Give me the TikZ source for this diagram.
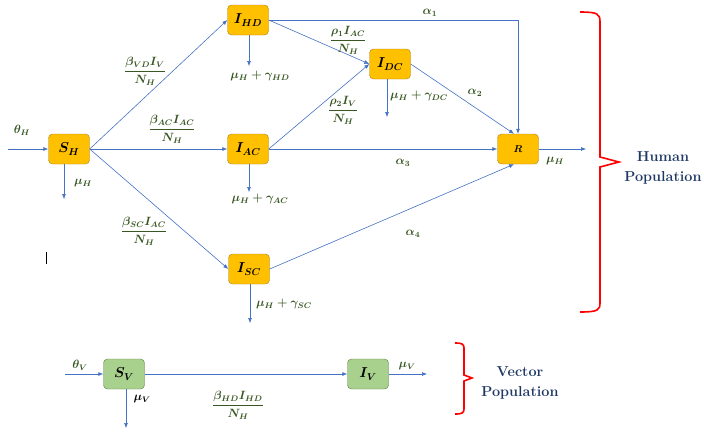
\documentclass[tikz,border=0pt]{standalone}
\usetikzlibrary{arrows.meta,positioning}
\usepackage{amsmath,amssymb,bm}
\definecolor{boxorange}{HTML}{FFC000}
\definecolor{orangeline}{HTML}{A8821A}
\definecolor{boxgreen}{HTML}{A9D18E}
\definecolor{greenline}{HTML}{5E8048}
\definecolor{flowblue}{HTML}{4472C4}
\definecolor{labgreen}{HTML}{385723}
\definecolor{popblue}{HTML}{1F3864}

\begin{document}
\begin{tikzpicture}[x=1pt,y=-1pt,
  hbox/.style={draw=orangeline,fill=boxorange,rounded corners=4pt,minimum width=41pt,minimum height=30pt,font=\Large\boldmath},
  vbox/.style={draw=greenline,fill=boxgreen,rounded corners=4pt,minimum width=41pt,minimum height=30pt,font=\Large\boldmath},
  flow/.style={draw=flowblue,line width=0.6pt,-{Latex[length=5pt,width=4pt]}},
  lab/.style={text=labgreen,font=\large\boldmath,inner sep=1pt},
  side/.style={text=popblue,font=\Large\bfseries,align=center,inner sep=0pt},
  brace/.style={draw=red,line width=1.6pt}]
\useasboundingbox (0,0) rectangle (704,432);

% human compartments
\node[hbox] (sh) at (69,149) {$S_H$};
\node[hbox] (ihd) at (248,20) {$I_{HD}$};
\node[hbox] (iac) at (248,149) {$I_{AC}$};
\node[hbox] (idc) at (390,64) {$I_{DC}$};
\node[hbox,font=\normalsize\boldmath] (r) at (518,149) {$R$};
\node[hbox] (isc) at (249,269) {$I_{SC}$};

% vector compartments
\node[vbox] (sv) at (124,374) {$S_V$};
\node[vbox] (iv) at (368,374) {$I_V$};

% free ends
\coordinate (thh) at (8,149);
\coordinate (shout) at (64,199);
\coordinate (ihdout) at (249,66);
\coordinate (iacout) at (249,192);
\coordinate (iscout) at (250,323);
\coordinate (idcout) at (387,117);
\coordinate (rout) at (586,149);
\coordinate (thv) at (65,374);
\coordinate (svout) at (126,428);
\coordinate (ivout) at (427,374);

% human flows
\draw[flow] (thh) -- (sh);
\draw[flow] (sh.south -| shout) -- (shout);
\draw[flow] (sh.east) -- (ihd.west);
\draw[flow] (sh) -- (iac);
\draw[flow] (sh.east) -- (isc.west);
\draw[flow] (ihd.south -| ihdout) -- (ihdout);
\draw[flow] (iac.south -| iacout) -- (iacout);
\draw[flow] (isc.south -| iscout) -- (iscout);
\draw[flow] (ihd.east) -| (r.north);
\draw[flow] (ihd.east) -- (idc.west);
\draw[flow] (iac.east) -- (idc.west);
\draw[flow] (idc.south -| idcout) -- (idcout);
\draw[flow] (idc.east) -- ([xshift=-4pt]r.north);
\draw[flow] (iac) -- (r);
\draw[flow] (isc.east) -- ([xshift=-4pt]r.south);
\draw[flow] (r) -- (rout);

% vector flows
\draw[flow] (thv) -- (sv);
\draw[flow] (sv.south -| svout) -- (svout);
\draw[flow] (sv) -- (iv);
\draw[flow] (iv) -- (ivout);

% rates
\node[lab] (lthh) at (22,130) {$\theta_H$};
\node[lab] (lmush) at (83,183) {$\mu_H$};
\node[lab] (lbvd) at (145,71) {$\dfrac{\beta_{VD}I_V}{N_H}$};
\node[lab] (lbac) at (172,129) {$\dfrac{\beta_{AC}I_{AC}}{N_H}$};
\node[lab] (lbsc) at (144,231) {$\dfrac{\beta_{SC}I_{AC}}{N_H}$};
\node[lab] (lmuhd) at (260,76) {$\mu_H+\gamma_{HD}$};
\node[lab] (lmuac) at (260,199) {$\mu_H+\gamma_{AC}$};
\node[lab] (lmusc) at (284,304) {$\mu_H+\gamma_{SC}$};
\node[lab] (la1) at (430,13) {$\alpha_1$};
\node[lab] (lrho1) at (348,40) {$\dfrac{\rho_1 I_{AC}}{N_H}$};
\node[lab] (lrho2) at (343,110) {$\dfrac{\rho_2 I_V}{N_H}$};
\node[lab] (lmudc) at (419,96) {$\mu_H+\gamma_{DC}$};
\node[lab] (la2) at (475,93) {$\alpha_2$};
\node[lab] (la3) at (403,163) {$\alpha_3$};
\node[lab] (lmur) at (555,161) {$\mu_H$};
\node[lab] (la4) at (413,234) {$\alpha_4$};
\node[lab] (lthv) at (80,365) {$\theta_V$};
\node[lab,text=black] (lmusv) at (142,399) {$\mu_V$};
\node[lab] (lbhd) at (238,405) {$\dfrac{\beta_{HD}I_{HD}}{N_H}$};
\node[lab] (lmuiv) at (407,366) {$\mu_V$};

% braces
\draw[brace] (580,12) .. controls (598,12) and (600,14) .. (600,22) -- (600,157)
  -- (619,162) -- (600,167) -- (600,303) .. controls (600,310) and (598,312) .. (580,312);
\draw[brace] (455,343) .. controls (462,343) and (464,344) .. (464,348) -- (464,375)
  -- (472,378) -- (464,381) -- (464,409) .. controls (464,413) and (462,414) .. (455,414);
\node[side] (hpop) at (663,168) {Human\\[2pt]Population};
\node[side] (vpop) at (520,383) {Vector\\[2pt]Population};

% stray mark
\draw[line width=0.6pt] (46,252) -- (46,264);
\end{tikzpicture}
\end{document}
